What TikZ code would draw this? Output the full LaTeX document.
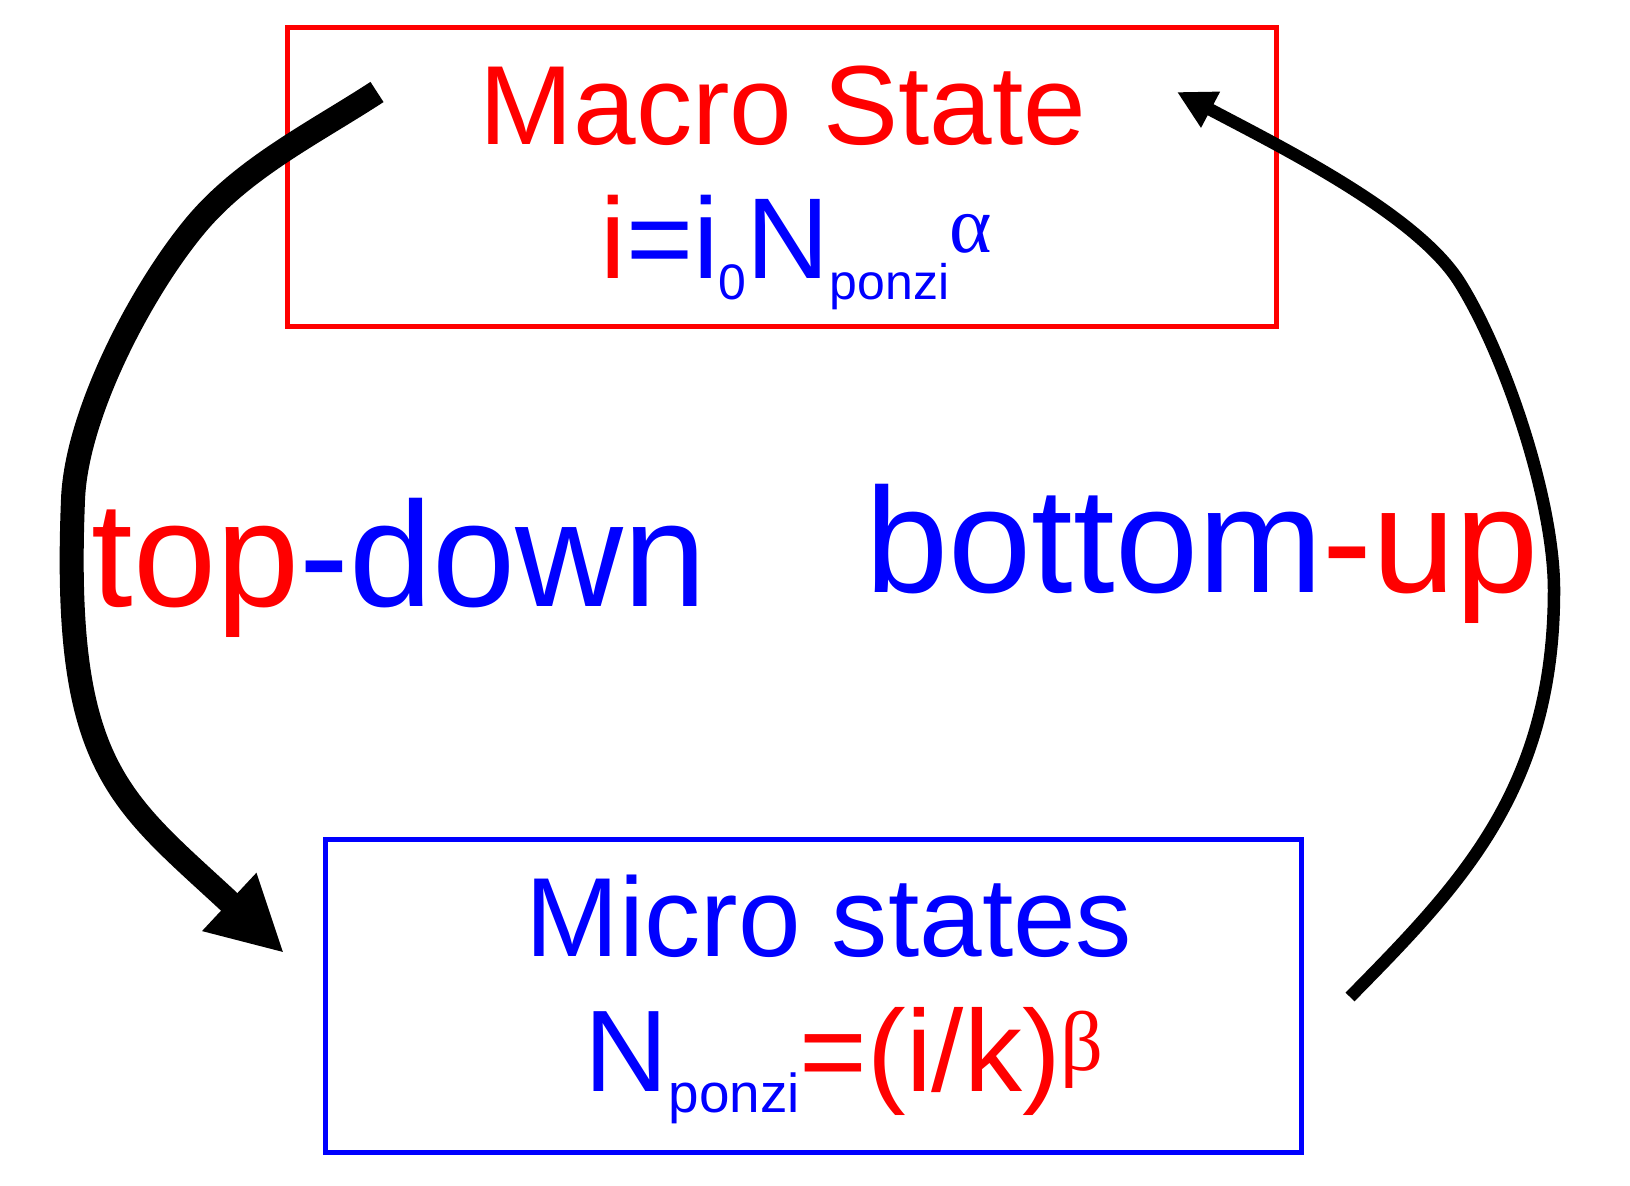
\documentclass[tikz,border=0pt]{standalone}
\usepackage{fontspec}
\setmainfont{Liberation Sans}
\newfontfamily\grk{Liberation Serif}
\usepackage{tikz}
\usetikzlibrary{arrows.meta}
\usetikzlibrary{calc}

\newcommand{\boxtxt}{\fontsize{32}{36}\selectfont}
\newcommand{\labtxt}{\fontsize{42.5}{48}\selectfont}
\newcommand{\subtxt}[2][14.2]{\raisebox{-5.7pt}{\fontsize{#1}{16}\selectfont #2}}
\newcommand{\suptxt}[3]{\raisebox{#1}{\fontsize{#2}{24}\selectfont\grk #3}}

\begin{document}
\begin{tikzpicture}[x=0.01cm, y=-0.01cm,
        macrobox/.style={draw=red, line width=1.42pt, minimum width=9.88cm, minimum height=2.98cm, inner sep=0pt},
        microbox/.style={draw=blue, line width=1.42pt, minimum width=9.75cm, minimum height=3.12cm, inner sep=0pt},
        txt/.style={anchor=base west, inner sep=0pt},
        bigarrow/.style={line width=6.83pt, -{Triangle[length=21.3pt, width=21pt]}},
        thinarrow/.style={line width=3.56pt, -{Triangle[length=10.8pt, width=10.8pt]}}]
    \useasboundingbox (0,0) rectangle (1630,1186);
    % the two states
    \node[macrobox] (macro) at (782,177) {};
    \node[microbox] (micro) at (813.5,996) {};
    \node[txt, red] (macrotitle) at (479,145) {\boxtxt Macro State};
    \node[txt] (macroeq) at (600,279) {\fontsize{32.7}{36}\selectfont\color{red}i\color{blue}=i\subtxt{0}N\subtxt{ponzi}\suptxt{7.4pt}{23}{α}};
    \node[txt, blue] (microtitle) at (525,957) {\boxtxt Micro states};
    \node[txt] (microeq) at (584,1092) {\fontsize{33}{36}\selectfont\color{blue}N\subtxt[15.6]{ponzi}\color{red}=(i/k)\suptxt{6.2pt}{24}{β}};
    % labels
    \node[txt] (topdown) at (91,607) {\labtxt\color{red}top\color{blue}-down};
    \node[txt] (bottomup) at (865,593) {\labtxt\color{blue}bottom\color{red}-up};
    % arrows
    \coordinate (tdA) at (377,92);
    \coordinate (tdK) at (195,226);
    \coordinate (tdM) at (73,500);
    \coordinate (tdB) at (284,953);
    \draw[bigarrow] (tdA) .. controls (314,133) and (243,168) .. (tdK)
        .. controls (141,291) and (76,415) .. (tdM)
        .. controls (62,770) and (120,800) .. (tdB);
    \coordinate (buA) at (1350,997);
    \coordinate (buM) at (1554,590);
    \coordinate (buK) at (1460,283);
    \coordinate (buB) at (1177,92);
    \draw[thinarrow] (buA) .. controls (1460,885) and (1554,790) .. (buM)
        .. controls (1554,500) and (1505,355) .. (buK)
        .. controls (1418,215) and (1283,148) .. (buB);
\end{tikzpicture}
\end{document}
